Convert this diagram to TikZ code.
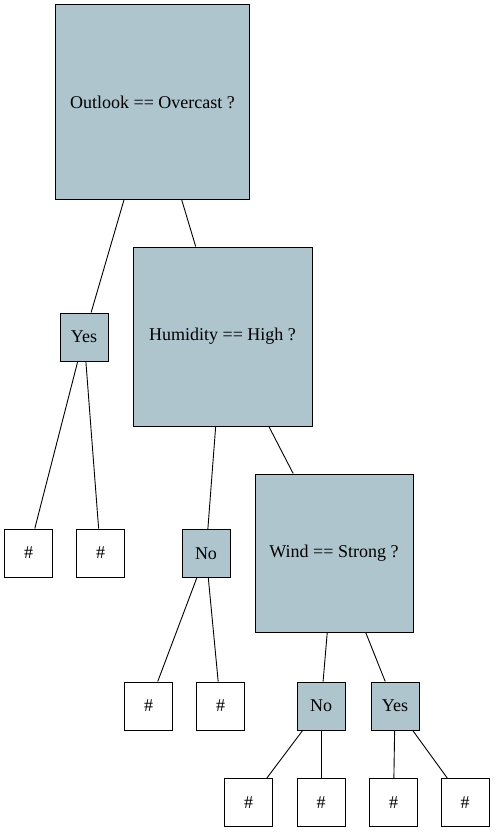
\documentclass[tikz,border=0pt]{standalone}
\usepackage{fontspec}
\setmainfont{Liberation Serif}
\definecolor{splitfill}{HTML}{AEC5CE}
\begin{document}
\begin{tikzpicture} [
                x=1pt, y=-1pt,
                split/.style={draw,line width=1pt,fill=splitfill,minimum size=#1,inner sep=0pt,font=\fontsize{18}{20}\selectfont},
                split/.default=48pt,
                leaf/.style={draw,line width=1pt,fill=white,minimum size=48pt,inner sep=0pt,font=\fontsize{18}{20}\selectfont},
                edge/.style = {draw,line width=0.9pt,-},
            ]
            \useasboundingbox (0,0) rectangle (495,832);
            \node[split=194pt] (outlook) at (152.5,102) {Outlook == Overcast ?};
            \node[split=179pt] (humidity) at (222.5,336.5) {Humidity == High ?};
            \node[split=158pt] (wind) at (334,553) {Wind == Strong ?};
            \foreach \pos/\name/\txt in {
            {(84,337)/yesa/Yes}, {(206,553.5)/noa/No}, {(321,706)/nob/No}, {(395,706)/yesb/Yes}}
                \node[split] (\name) at \pos {\txt};
            \foreach \pos/\name in {
            {(28.5,553)/la}, {(100.5,553)/lb}, {(148.5,706)/lc}, {(220.5,706)/ld},
            {(248.5,802.5)/le}, {(321,802.5)/lf}, {(393.5,802.5)/lg}, {(465,802.5)/lh}}
                \node[leaf] (\name) at \pos {\#};
            \foreach \source/ \dest in {
                    outlook/yesa,outlook/humidity,yesa/la,yesa/lb,
                    humidity/noa,humidity/wind,noa/lc,noa/ld,
                    wind/nob,wind/yesb,nob/le,nob/lf,yesb/lg,yesb/lh}
                \path[edge] (\source) -- (\dest);
        \end{tikzpicture}
\end{document}
